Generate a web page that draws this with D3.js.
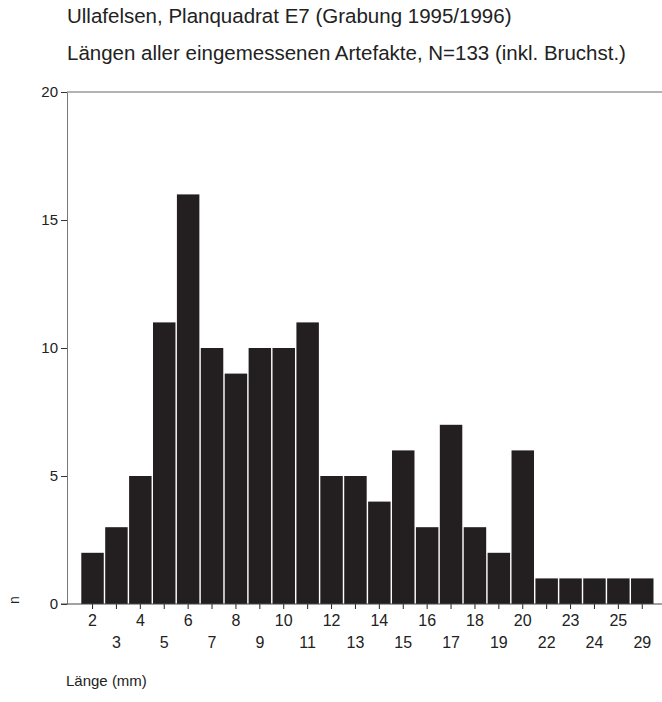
<!DOCTYPE html>
<html>
<head>
<meta charset="utf-8">
<script src="https://cdn.jsdelivr.net/npm/d3@7"></script>
<style>
  html, body { margin: 0; padding: 0; background: #fff; }
  svg { display: block; font-family: "Liberation Sans", Arial, Helvetica, sans-serif; }
</style>
</head>
<body>
<svg id="chart" width="662" height="702"></svg>
<script>
// Length classes (mm) and artefact counts
const lengths = ["2","3","4","5","6","7","8","9","10","11","12","13","14","15","16","17","18","19","20","22","23","24","25","29"];
const counts  = [2, 3, 5, 11, 16, 10, 9, 10, 10, 11, 5, 5, 4, 6, 3, 7, 3, 2, 6, 1, 1, 1, 1, 1];
const yTicks  = [0, 5, 10, 15, 20];

const titleLine1 = "Ullafelsen, Planquadrat E7 (Grabung 1995/1996)";
const titleLine2 = "Längen aller eingemessenen Artefakte, N=133 (inkl. Bruchst.)";
const xTitle = "Länge (mm)";
const yTitle = "n";

const svg = d3.select("#chart");

const x = d3.scaleBand()
  .domain(lengths)
  .range([81.3, 653.5])
  .paddingInner(0.06)
  .paddingOuter(0);

const y = d3.scaleLinear()
  .domain([0, 20])
  .range([604, 92]);

// titles
svg.append("text").attr("x", 67).attr("y", 23)
  .attr("font-size", 20.5).attr("fill", "#222").text(titleLine1);
svg.append("text").attr("x", 67).attr("y", 60)
  .attr("font-size", 20.5).attr("fill", "#222").text(titleLine2);

// frame top line
svg.append("line")
  .attr("x1", 67).attr("x2", 662)
  .attr("y1", y(20)).attr("y2", y(20))
  .attr("stroke", "#666").attr("stroke-width", 1);

// bars
svg.append("g").selectAll("rect")
  .data(lengths)
  .join("rect")
  .attr("x", d => x(d))
  .attr("width", x.bandwidth())
  .attr("y", (d, i) => y(counts[i]))
  .attr("height", (d, i) => y(0) - y(counts[i]))
  .attr("fill", "#231f20");

// y axis
const yAxis = svg.append("g")
  .attr("transform", "translate(67,0)")
  .call(d3.axisLeft(y).tickValues(yTicks).tickSize(6).tickPadding(3).tickSizeOuter(0));
yAxis.select(".domain").attr("stroke", "#777");
yAxis.selectAll(".tick line").attr("stroke", "#333");
yAxis.selectAll("text").attr("font-size", 15).attr("fill", "#222")
  .attr("font-family", "Liberation Sans, Arial, sans-serif");

// x axis with alternating label rows
const xAxis = svg.append("g")
  .attr("transform", `translate(0,${y(0)})`)
  .call(d3.axisBottom(x).tickSize(5).tickPadding(6).tickSizeOuter(0));
xAxis.select(".domain").remove();
xAxis.selectAll(".tick line").attr("stroke", "#222");
xAxis.selectAll("text")
  .attr("font-size", 16).attr("fill", "#222")
  .attr("font-family", "Liberation Sans, Arial, sans-serif")
  .attr("y", (d, i) => i % 2 === 0 ? 11 : 33);

// baseline
svg.append("line")
  .attr("x1", 61).attr("x2", 662)
  .attr("y1", y(0)).attr("y2", y(0))
  .attr("stroke", "#444").attr("stroke-width", 1);

// axis titles
svg.append("text").attr("x", 66).attr("y", 686)
  .attr("font-size", 15).attr("fill", "#222").text(xTitle);
svg.append("text")
  .attr("transform", "translate(19,600) rotate(-90)")
  .attr("text-anchor", "middle")
  .attr("font-size", 14).attr("fill", "#222").text(yTitle);
</script>
</body>
</html>
